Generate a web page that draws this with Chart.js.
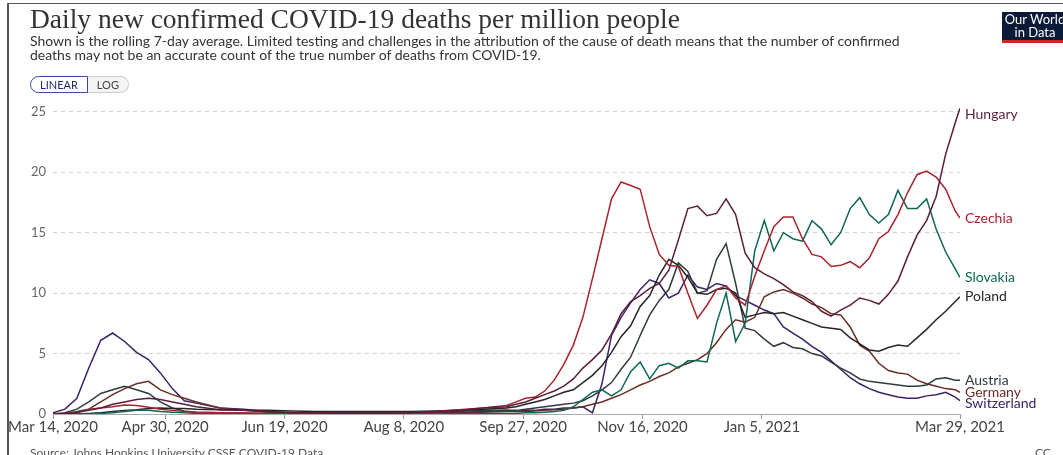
<!DOCTYPE html>
<html>
<head>
<meta charset="utf-8">
<script src="https://cdn.jsdelivr.net/npm/chart.js@4.4.1/dist/chart.umd.min.js"></script>
<style>
  body { margin: 0; width: 1063px; height: 455px; overflow: hidden; background: #fff; font-family: Lato, sans-serif; position: relative; }
  #frame { position: absolute; left: 7px; top: 3px; width: 1100px; height: 500px; border-left: 2px solid #555; border-top: 1px solid #555; }
  canvas { position: absolute; left: 0; top: 0; }
  .title { position: absolute; left: 30px; top: 5px; font-family: "Liberation Serif", serif; font-size: 27.5px; line-height: 27px; color: #333; white-space: nowrap; }
  .sub { position: absolute; left: 30px; top: 34px; font-size: 14px; line-height: 14px; color: #333; white-space: nowrap; }
  .toggle { position: absolute; left: 30px; top: 76px; height: 17px; display: flex; font-size: 11px; }
  .toggle div { height: 15px; line-height: 15px; padding: 0 9px; }
  .lin { border: 1px solid #3b4a96; border-radius: 9px 0 0 9px; color: #1f2d6e; }
  .log { border: 1px solid #ccc; border-left: none; border-radius: 0 9px 9px 0; color: #444; background: #f4f4f4; }
  .logo { position: absolute; left: 1002px; top: 12px; width: 66px; height: 27px; background: #0b1a36; color: #fff; font-size: 13px; line-height: 13px; text-align: center; border-bottom: 3px solid #ce261e; padding-top: 1px; }
  .src { position: absolute; left: 30px; top: 445px; font-size: 12px; color: #555; }
  .cc { position: absolute; left: 1035px; top: 445px; font-size: 12px; color: #555; }
</style>
</head>
<body>
<div id="frame"></div>
<canvas id="chart" width="1063" height="455"></canvas>
<div class="title">Daily new confirmed COVID-19 deaths per million people</div>
<div class="sub">Shown is the rolling 7-day average. Limited testing and challenges in the attribution of the cause of death means that the number of confirmed<br>deaths may not be an accurate count of the true number of deaths from COVID-19.</div>
<div class="toggle"><div class="lin">LINEAR</div><div class="log">LOG</div></div>
<div class="logo">Our World<br>in Data</div>
<div class="src">Source: Johns Hopkins University CSSE COVID-19 Data</div>
<div class="cc">CC BY</div>
<script>
// days since Mar 14, 2020
const days = [0, 5, 10, 15, 20, 25, 30, 35, 40, 45, 50, 55,
  60, 70, 80, 90, 100, 110, 120, 130, 140, 150, 160, 170, 180,
  190, 194, 198, 202, 206, 210, 214, 218, 222, 226, 230, 234, 238, 242, 246, 250,
  254, 258, 262, 266, 270, 274, 278, 282, 286, 290, 294, 298, 302, 306, 310, 314,
  318, 322, 326, 330, 334, 338, 342, 346, 350, 354, 358, 362, 366, 370, 374, 378, 380];

const tickDays = [0, 47, 97, 147, 197, 247, 297, 380];
const tickLabels = ["Mar 14, 2020", "Apr 30, 2020", "Jun 19, 2020", "Aug 8, 2020", "Sep 27, 2020", "Nov 16, 2020", "Jan 5, 2021", "Mar 29, 2021"];
const yTicks = [0, 5, 10, 15, 20, 25];

const hungary = [0, 0.05, 0.15, 0.3, 0.5, 0.8, 1.0, 1.2, 1.3, 1.2, 1.0, 0.8,
  0.6, 0.35, 0.3, 0.2, 0.1, 0.1, 0.05, 0.05, 0.05, 0.1, 0.2, 0.3, 0.5,
  0.6, 0.8, 1.0, 1.3, 1.6, 1.9, 2.3, 2.9, 3.8, 4.5, 5.3, 6.6, 8.3, 9.3, 9.8, 10.4,
  10.8, 11.9, 14.4, 17.0, 17.2, 16.4, 16.6, 17.8, 16.5, 13.3, 12.1, 11.6, 11.2, 10.7, 10.1, 9.8,
  9.3, 8.5, 8.1, 8.6, 9.0, 9.6, 9.4, 9.1, 9.9, 11.0, 13.0, 14.8, 16.0, 18.0, 21.5, 24.1, 25.3];
const czechia = [0, 0.05, 0.2, 0.4, 0.5, 0.6, 0.75, 0.7, 0.55, 0.4, 0.3, 0.2,
  0.15, 0.1, 0.1, 0.05, 0.05, 0.1, 0.05, 0.05, 0.05, 0.1, 0.2, 0.35, 0.5,
  0.7, 1.0, 1.3, 1.4, 1.9, 2.8, 4.1, 5.7, 8.0, 11.2, 14.5, 17.8, 19.2, 18.9, 18.6, 15.5,
  13.2, 12.3, 12.2, 10.0, 7.9, 9.0, 10.3, 10.6, 9.6, 9.0, 11.4, 13.5, 15.5, 16.3, 16.3, 14.5,
  13.2, 13.0, 12.2, 12.3, 12.6, 12.1, 12.9, 14.5, 15.1, 16.5, 18.3, 19.8, 20.1, 19.6, 18.6, 16.8, 16.2];
const slovakia = [0, 0, 0, 0.02, 0.05, 0.1, 0.2, 0.3, 0.3, 0.2, 0.15, 0.1,
  0.05, 0.02, 0.02, 0, 0, 0, 0, 0, 0.02, 0.02, 0.02, 0.03, 0.05,
  0.05, 0.05, 0.1, 0.1, 0.15, 0.2, 0.3, 0.6, 1.2, 1.8, 2.0, 1.5, 2.0, 3.5, 4.3, 2.9,
  4.0, 4.2, 3.8, 4.4, 4.4, 4.3, 7.5, 10.0, 6.0, 7.5, 13.5, 16.0, 13.5, 15.0, 14.5, 14.3,
  16.0, 15.3, 14.0, 15.0, 17.0, 17.9, 16.5, 15.8, 16.5, 18.5, 17.0, 17.0, 17.8, 15.3, 13.4, 12.0, 11.3];
const poland = [0, 0, 0.02, 0.05, 0.1, 0.2, 0.3, 0.35, 0.45, 0.5, 0.45, 0.45,
  0.4, 0.35, 0.3, 0.3, 0.25, 0.2, 0.2, 0.2, 0.2, 0.2, 0.25, 0.3, 0.4,
  0.5, 0.6, 0.8, 1.0, 1.2, 1.5, 1.8, 2.0, 2.6, 3.2, 4.0, 5.1, 6.4, 7.3, 8.9, 9.8,
  11.5, 12.8, 12.3, 11.3, 10.0, 9.9, 10.3, 10.4, 10.0, 8.0, 8.2, 8.4, 8.3, 8.4, 8.1, 7.8,
  7.5, 7.2, 7.1, 7.0, 6.3, 5.8, 5.3, 5.2, 5.5, 5.7, 5.6, 6.3, 7.0, 7.8, 8.5, 9.3, 9.7];
const austria = [0, 0.1, 0.4, 1.0, 1.7, 2.0, 2.3, 2.0, 1.7, 1.0, 0.5, 0.25,
  0.15, 0.1, 0.05, 0.05, 0.05, 0.05, 0.05, 0.1, 0.1, 0.1, 0.15, 0.2, 0.3,
  0.3, 0.3, 0.4, 0.5, 0.6, 0.7, 0.8, 0.9, 1.1, 1.5, 2.0, 2.6, 3.7, 4.7, 6.5, 8.2,
  9.4, 10.3, 12.5, 11.8, 10.0, 10.2, 12.8, 14.1, 10.8, 7.1, 6.9, 6.2, 5.6, 5.9, 5.5, 5.4,
  5.0, 4.8, 4.3, 3.8, 3.4, 2.9, 2.7, 2.6, 2.5, 2.4, 2.3, 2.3, 2.4, 2.9, 3.0, 2.8, 2.8];
const germany = [0, 0.02, 0.1, 0.4, 1.0, 1.6, 2.1, 2.5, 2.7, 2.0, 1.6, 1.3,
  1.0, 0.5, 0.3, 0.15, 0.1, 0.05, 0.05, 0.05, 0.05, 0.05, 0.1, 0.1, 0.15,
  0.2, 0.2, 0.2, 0.25, 0.3, 0.35, 0.4, 0.5, 0.6, 0.8, 1.0, 1.3, 1.6, 2.0, 2.4, 2.7,
  3.1, 3.4, 3.9, 4.2, 4.5, 5.0, 5.9, 7.0, 7.8, 7.6, 8.0, 9.7, 10.1, 10.3, 10.0, 9.6,
  9.1, 8.8, 8.3, 8.2, 7.2, 5.7, 5.2, 4.2, 3.6, 3.4, 3.3, 2.8, 2.5, 2.3, 2.1, 2.0, 1.8];
const switzerland = [0.1, 0.4, 1.3, 3.8, 6.1, 6.7, 6.0, 5.1, 4.5, 3.4, 2.1, 1.1,
  0.9, 0.5, 0.4, 0.2, 0.1, 0.1, 0.1, 0.1, 0.1, 0.1, 0.1, 0.1, 0.2,
  0.3, 0.2, 0.3, 0.3, 0.4, 0.4, 0.5, 0.5, 0.6, 0.1, 2.5, 6.5, 8.0, 9.2, 10.3, 11.1,
  10.8, 9.6, 10.0, 11.5, 10.5, 10.3, 10.8, 10.6, 9.8, 9.4, 9.0, 8.6, 8.3, 7.2, 6.7, 6.2,
  5.6, 5.1, 4.4, 3.7, 3.0, 2.5, 2.1, 1.8, 1.6, 1.4, 1.3, 1.3, 1.5, 1.6, 1.8, 1.4, 1.1];

const series = [
  { label: "Hungary", data: hungary, color: "#5a1e3c" },
  { label: "Czechia", data: czechia, color: "#a8242f" },
  { label: "Slovakia", data: slovakia, color: "#0e6657" },
  { label: "Poland", data: poland, color: "#262626" },
  { label: "Austria", data: austria, color: "#303a3f" },
  { label: "Germany", data: germany, color: "#6a2d24" },
  { label: "Switzerland", data: switzerland, color: "#3a2368" }
];

// country names at the end of each line
const endLabels = {
  id: "endLabels",
  afterDatasetsDraw(chart) {
    const { ctx, chartArea } = chart;
    const items = chart.data.datasets.map((ds, i) => {
      const pts = chart.getDatasetMeta(i).data;
      const p = pts[pts.length - 1];
      return { text: ds.label, color: ds.borderColor, y: Math.max(p.y, chartArea.top + 7) };
    }).sort((a, b) => a.y - b.y);
    for (let i = 1; i < items.length; i++) {
      if (items[i].y < items[i - 1].y + 11.5) items[i].y = items[i - 1].y + 11.5;
    }
    ctx.save();
    ctx.font = "14px Lato";
    ctx.textBaseline = "middle";
    items.forEach(it => {
      ctx.fillStyle = it.color;
      ctx.fillText(it.text, chartArea.right + 5, it.y);
    });
    ctx.restore();
  }
};

new Chart(document.getElementById("chart"), {
  type: "line",
  data: {
    datasets: series.map(s => ({
      label: s.label,
      data: days.map((d, i) => ({ x: d, y: s.data[i] })),
      borderColor: s.color,
      borderWidth: 1.5,
      pointRadius: 0,
      tension: 0,
      fill: false
    }))
  },
  options: {
    responsive: false,
    animation: false,
    devicePixelRatio: 1,
    layout: { padding: { top: 107, right: 103, bottom: 11, left: 0 } },
    plugins: { legend: { display: false }, tooltip: { enabled: false } },
    scales: {
      x: {
        type: "linear",
        min: 0,
        max: 380,
        afterBuildTicks: axis => { axis.ticks = tickDays.map(v => ({ value: v })); },
        afterFit: axis => { axis.height = 30; },
        ticks: {
          autoSkip: false,
          maxRotation: 0,
          padding: -1,
          color: "#444",
          font: { family: "Lato", size: 15 },
          callback: v => tickLabels[tickDays.indexOf(v)]
        },
        grid: { drawOnChartArea: false, drawTicks: true, tickLength: 5, color: "#999" },
        border: { display: true, color: "#aaa", width: 1 }
      },
      y: {
        min: 0,
        max: 25.4,
        afterBuildTicks: axis => { axis.ticks = yTicks.map(v => ({ value: v })); },
        afterFit: axis => { axis.width = 53; },
        ticks: {
          padding: 7,
          color: "#666",
          font: { family: "Lato", size: 13 }
        },
        grid: { drawTicks: false, color: "#cfcfcf", lineWidth: 1 },
        border: { display: false, dash: [4, 4] }
      }
    }
  },
  plugins: [endLabels]
});
</script>
</body>
</html>
